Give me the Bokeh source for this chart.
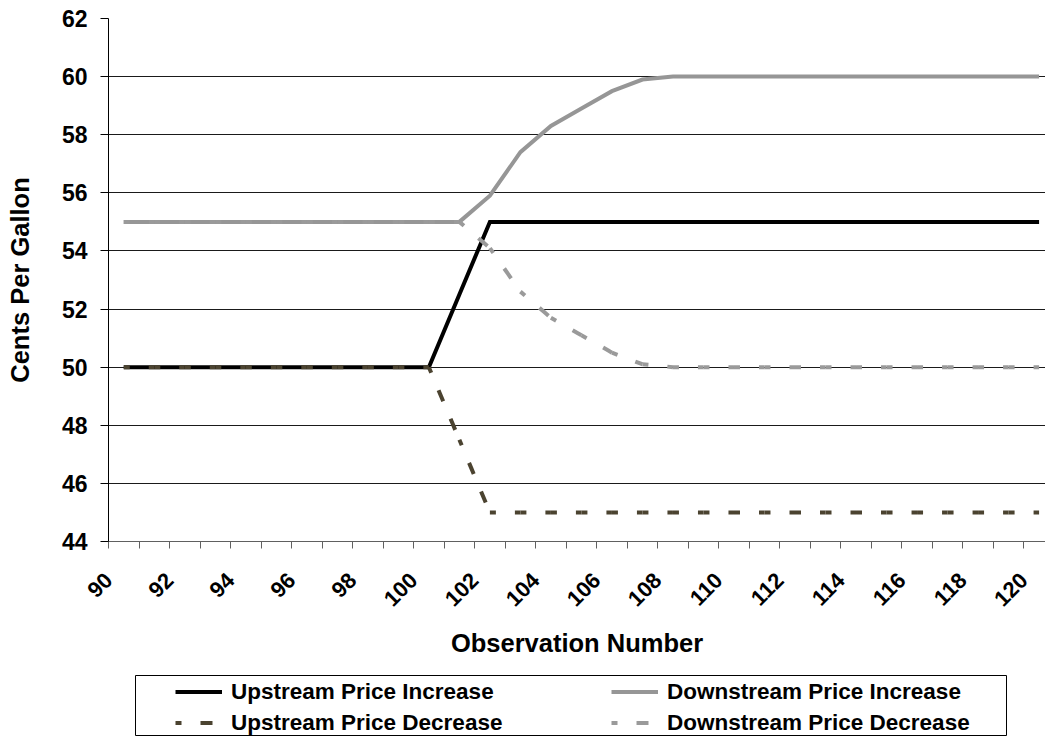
import math
from bokeh.plotting import figure
from bokeh.layouts import column
from bokeh.models import FixedTicker, Legend, LegendItem, Range1d, ColumnDataSource, Grid
from bokeh.embed import file_html
from bokeh.resources import INLINE

# ---------------- data ----------------
obs = [90, 91, 92, 93, 94, 95, 96, 97, 98, 99, 100, 101, 102, 103, 104, 105,
       106, 107, 108, 109, 110, 111, 112, 113, 114, 115, 116, 117, 118, 119, 120]

upstream_increase = [50, 50, 50, 50, 50, 50, 50, 50, 50, 50, 50, 52.5, 55, 55,
                     55, 55, 55, 55, 55, 55, 55, 55, 55, 55, 55, 55, 55, 55, 55, 55, 55]
downstream_increase = [55, 55, 55, 55, 55, 55, 55, 55, 55, 55, 55, 55, 55.9, 57.4,
                       58.3, 58.9, 59.5, 59.9, 60, 60, 60, 60, 60, 60, 60, 60, 60,
                       60, 60, 60, 60]
upstream_decrease = [50, 50, 50, 50, 50, 50, 50, 50, 50, 50, 50, 47.5, 45, 45,
                     45, 45, 45, 45, 45, 45, 45, 45, 45, 45, 45, 45, 45, 45, 45, 45, 45]
downstream_decrease = [55, 55, 55, 55, 55, 55, 55, 55, 55, 55, 55, 55, 54.1, 52.6,
                       51.7, 51.1, 50.5, 50.1, 50, 50, 50, 50, 50, 50, 50, 50, 50,
                       50, 50, 50, 50]

x_tick_labels = ["90", "92", "94", "96", "98", "100", "102", "104", "106", "108",
                 "110", "112", "114", "116", "118", "120"]
y_ticks = [44, 46, 48, 50, 52, 54, 56, 58, 60, 62]

series_names = ["Upstream Price Increase", "Downstream Price Increase",
                "Upstream Price Decrease", "Downstream Price Decrease"]

FONT = "Liberation Sans"
STYLE = {
    "ui": dict(line_color="black", line_width=4),
    "di": dict(line_color="#969696", line_width=4),
    "ud": dict(line_color="#4b4330", line_width=4, line_dash="6 19 6 0"),
    "dd": dict(line_color="#9a9a9a", line_width=4, line_dash="6 19 6 0"),
}

def seg_source(vals):
    return ColumnDataSource(dict(x0=obs[:-1], x1=obs[1:], y0=vals[:-1], y1=vals[1:]))

src_ud = seg_source(upstream_decrease)
src_dd = seg_source(downstream_decrease)

def draw_series(fig, **kw):
    r_ui = fig.line(obs, upstream_increase, line_join="miter", **STYLE["ui"], **kw)
    r_di = fig.line(obs, downstream_increase, line_join="miter", **STYLE["di"], **kw)
    r_ud = fig.segment(x0="x0", y0="y0", x1="x1", y1="y1", source=src_ud, **STYLE["ud"], **kw)
    r_dd = fig.segment(x0="x0", y0="y0", x1="x1", y1="y1", source=src_dd, **STYLE["dd"], **kw)
    return r_ui, r_di, r_ud, r_dd

# ---------------- main chart ----------------
p = figure(width=1045, height=675, output_backend="svg", toolbar_location=None,
           x_range=Range1d(89.5, 120.21), y_range=Range1d(44, 62),
           min_border_left=108, min_border_right=0, min_border_top=18,
           min_border_bottom=134)
p.frame_align = False
p.outline_line_color = None
draw_series(p)

label_pos = [v - 0.5 for v in obs[::2]]
sep_pos = [v - 0.5 for v in obs] + [obs[-1] + 0.5]
p.xaxis.ticker = FixedTicker(ticks=label_pos, minor_ticks=sep_pos)
p.xaxis.major_label_overrides = {pos: lab for pos, lab in zip(label_pos, x_tick_labels)}
p.xaxis.major_label_orientation = math.pi / 4
p.xaxis.major_tick_in = 0
p.xaxis.major_tick_out = 0
p.xaxis.minor_tick_in = 0
p.xaxis.minor_tick_out = 7
p.xaxis.axis_line_color = "#606060"
p.xaxis.major_tick_line_color = None
p.xaxis.minor_tick_line_color = "#606060"
p.xaxis.major_label_standoff = 28
p.xaxis.axis_label = "Observation Number"
p.xaxis.axis_label_standoff = 13

p.yaxis.ticker = FixedTicker(ticks=y_ticks)
p.yaxis.major_tick_in = 0
p.yaxis.major_tick_out = 8
p.yaxis.minor_tick_line_color = None
p.yaxis.axis_line_color = "black"
p.yaxis.major_tick_line_color = "black"
p.yaxis.major_label_standoff = 13
p.yaxis.axis_label = "Cents Per Gallon"
p.yaxis.axis_label_standoff = 25

for ax in (p.xaxis, p.yaxis):
    ax.major_label_text_font = FONT
    ax.major_label_text_font_style = "bold"
    ax.major_label_text_color = "black"
    ax.axis_label_text_font = FONT
    ax.axis_label_text_font_style = "bold"
    ax.axis_label_text_color = "black"
    ax.axis_label_text_font_size = "25.5px"
p.xaxis.major_label_text_font_size = "22px"
p.yaxis.major_label_text_font_size = "23px"

p.xgrid.visible = False
p.ygrid.ticker = FixedTicker(ticks=y_ticks[1:-1])
p.ygrid.grid_line_color = "#1a1a1a"
p.ygrid.grid_line_width = 1
p.add_layout(Grid(dimension=1, ticker=FixedTicker(ticks=y_ticks[-1:]),
                  grid_line_color="#a0a0a0", grid_line_width=1))

# ---------------- legend strip (its frame outline is the legend box) ----------------
pl = figure(width=1045, height=61, output_backend="svg", toolbar_location=None,
            x_axis_type=None, y_axis_type=None,
            x_range=Range1d(0, 1), y_range=Range1d(0, 1),
            min_border_left=135, min_border_right=39, min_border_top=0,
            min_border_bottom=0)
pl.frame_align = False
pl.outline_line_color = "black"
pl.outline_line_width = 1
pl.xgrid.visible = False
pl.ygrid.visible = False
l_ui, l_di, l_ud, l_dd = draw_series(pl, visible=False)

legend = Legend(
    items=[LegendItem(label=series_names[0], renderers=[l_ui]),
           LegendItem(label=series_names[2], renderers=[l_ud]),
           LegendItem(label=series_names[1], renderers=[l_di]),
           LegendItem(label=series_names[3], renderers=[l_dd])],
    orientation="vertical", nrows=2, location=(40, 0),
    glyph_width=47, glyph_height=27, label_width=376, label_height=27,
    label_standoff=9, spacing=4, padding=0, margin=0,
    border_line_color=None, background_fill_alpha=0,
    label_text_font=FONT, label_text_font_style="bold",
    label_text_font_size="22.5px", label_text_color="black")
pl.add_layout(legend, "center")

layout = column(p, pl, spacing=0)
open("out.html", "w").write(file_html(layout, INLINE))
